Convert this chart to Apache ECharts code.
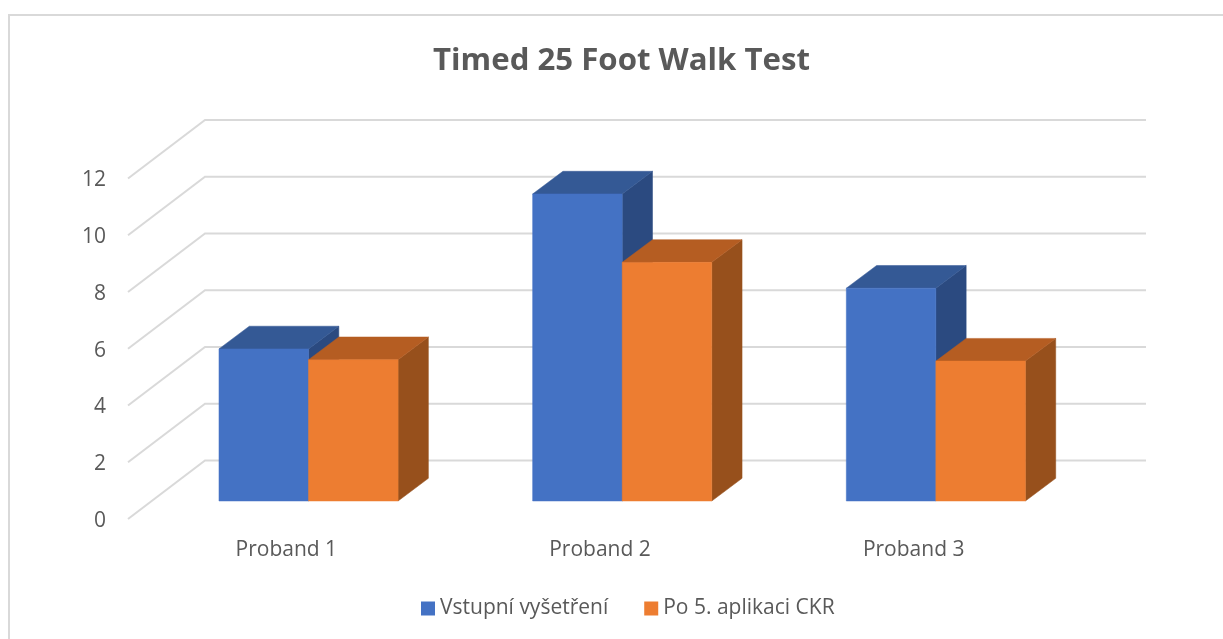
<!DOCTYPE html>
<html>
<head>
<meta charset="utf-8">
<title>Timed 25 Foot Walk Test</title>
<script src="https://cdn.jsdelivr.net/npm/echarts@6/dist/echarts.min.js"></script>
<style>
  html, body { margin: 0; padding: 0; background: #fff; }
  #chart { width: 1223px; height: 639px; }
</style>
</head>
<body>
<div id="chart"></div>
<script>
const categories = ['Proband 1', 'Proband 2', 'Proband 3'];
const yTicks = [0, 2, 4, 6, 8, 10, 12];
const vstupni = [5.36, 10.82, 7.5];
const poAplikaci = [4.98, 8.41, 4.93];

const FONT = '"Open Sans", "Noto Sans", sans-serif';
const TEXT = '#595959';
const GRID_LINE = '#d9d9d9';
// how far the back wall and the bars sit from the axis plane, px
const WALL = { x: 77, y: -58.5 };
const BAR_PLANE = { x: 23.7, y: -18 };
const BAR_DEPTH = { x: 30.3, y: -22.7 };
const BAR_SHARE = 0.2855;

function face(points, color) {
  return {
    type: 'polygon',
    shape: { points: points },
    style: { fill: color, stroke: color, lineWidth: 0.5 }
  };
}

function renderWall(params, api) {
  const cs = params.coordSys;
  const y = api.coord([0, api.value(1)])[1];
  return {
    type: 'polyline',
    shape: {
      points: [
        [cs.x, y],
        [cs.x + WALL.x, y + WALL.y],
        [cs.x + cs.width + WALL.x, y + WALL.y]
      ]
    },
    style: { fill: null, stroke: GRID_LINE, lineWidth: 2 }
  };
}

// slot -1 sits left of the category centre, slot 0 right of it
function barRenderer(slot, front, top, side) {
  return function (params, api) {
    const tip = api.coord([api.value(0), api.value(1)]);
    const base = api.coord([api.value(0), 0]);
    const w = api.size([1, 0])[0] * BAR_SHARE;
    const x0 = tip[0] + BAR_PLANE.x + slot * w;
    const x1 = x0 + w;
    const y0 = tip[1] + BAR_PLANE.y;
    const y1 = base[1] + BAR_PLANE.y;
    const dx = BAR_DEPTH.x;
    const dy = BAR_DEPTH.y;
    return {
      type: 'group',
      children: [
        face([[x1, y0], [x1 + dx, y0 + dy], [x1 + dx, y1 + dy], [x1, y1]], side),
        face([[x0, y0], [x0 + dx, y0 + dy], [x1 + dx, y0 + dy], [x1, y0]], top),
        face([[x0, y0], [x1, y0], [x1, y1], [x0, y1]], front)
      ]
    };
  };
}

const chart = echarts.init(document.getElementById('chart'));
chart.setOption({
  animation: false,
  backgroundColor: '#fff',
  title: {
    text: 'Timed 25 Foot Walk Test',
    left: 428,
    top: 41,
    textStyle: { color: TEXT, fontFamily: FONT, fontSize: 31.2, fontWeight: 'bold' }
  },
  graphic: [{
    type: 'polyline',
    silent: true,
    shape: { points: [[9, 639], [9, 15], [1223, 15]] },
    style: { fill: null, stroke: GRID_LINE, lineWidth: 2 }
  }],
  legend: {
    data: ['Vstupní vyšetření', 'Po 5. aplikaci CKR'],
    left: 416,
    top: 593,
    icon: 'rect',
    itemWidth: 14,
    itemHeight: 14,
    itemGap: 36,
    textStyle: { color: TEXT, fontFamily: FONT, fontSize: 21 }
  },
  grid: { left: 128, top: 178.5, width: 941, height: 340.5 },
  xAxis: {
    type: 'category',
    data: categories,
    axisLine: { show: false },
    axisTick: { show: false },
    axisLabel: { color: TEXT, fontFamily: FONT, fontSize: 21, margin: 20.5, padding: [0, 0, 0, 3] }
  },
  yAxis: {
    type: 'value',
    min: 0,
    max: 12,
    interval: 2,
    axisLine: { show: false },
    axisTick: { show: false },
    splitLine: { show: false },
    axisLabel: {
      margin: 22,
      formatter: '{tick|{value}}',
      rich: {
        tick: { color: TEXT, fontFamily: FONT, fontSize: 21, padding: [4, 0, 0, 0] }
      }
    }
  },
  series: [
    {
      type: 'custom',
      name: 'wall',
      silent: true,
      z: 1,
      data: yTicks.map(v => [0, v]),
      encode: { x: 0, y: 1 },
      renderItem: renderWall
    },
    {
      type: 'custom',
      name: 'Vstupní vyšetření',
      z: 2,
      itemStyle: { color: '#4472c4' },
      data: vstupni.map((v, i) => [i, v]),
      encode: { x: 0, y: 1 },
      renderItem: barRenderer(-1, '#4472c4', '#345995', '#2b4a80')
    },
    {
      type: 'custom',
      name: 'Po 5. aplikaci CKR',
      z: 3,
      itemStyle: { color: '#ed7d31' },
      data: poAplikaci.map((v, i) => [i, v]),
      encode: { x: 0, y: 1 },
      renderItem: barRenderer(0, '#ed7d31', '#b55d22', '#97501c')
    }
  ]
});
</script>
</body>
</html>
